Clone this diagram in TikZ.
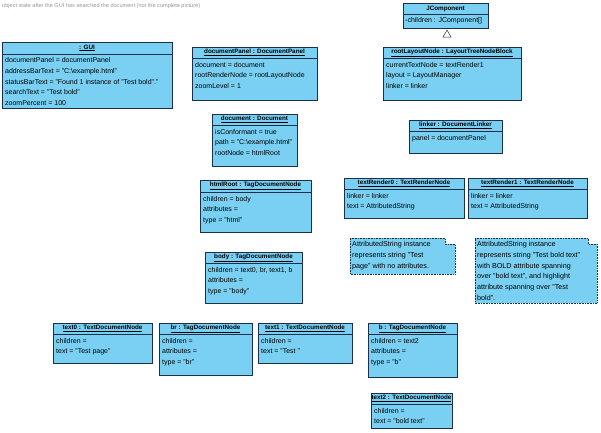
\documentclass[tikz,border=0pt]{standalone}
\usepackage{fontspec}
\setmainfont{Liberation Sans}
\usepackage{tikz}

\definecolor{objfill}{RGB}{122,208,242}
\definecolor{objline}{RGB}{28,48,78}
\definecolor{captiongray}{RGB}{150,150,150}

\newcommand{\bsl}{\textbackslash}

\begin{document}
\begin{tikzpicture}[x=1pt,y=-1pt,
    obj/.style={fill=objfill, draw=objline, line width=0.6pt},
    objsep/.style={draw=objline, line width=0.6pt},
    note/.style={fill=objfill, draw=objline, line width=0.6pt, densely dotted},
    objtitle/.style={inner sep=0pt, font=\fontsize{6.3}{7}\selectfont\bfseries},
    objattr/.style={anchor=north west, align=left, inner sep=0pt, font=\fontsize{7}{10.7}\selectfont},
    notetext/.style={anchor=north west, align=left, inner sep=0pt, font=\fontsize{7.2}{10.8}\selectfont}]
            \useasboundingbox (0,0) rectangle (601,432);
            \node[anchor=west, inner sep=0pt, text=captiongray, font=\fontsize{5.6}{6}\selectfont] (caption) at (2,6)
                {object state after the GUI has searched the document (not the complete picture)};

            % GUI
            \draw[obj] (2,42) rectangle (172,108);
            \draw[objsep] (2,54) -- (172,54);
            \node[objtitle] (gui) at (87,48) {\underline{: GUI}};
            \node[objattr] (guiattr) at (5,57.5) {documentPanel = documentPanel\\
                addressBarText = "C:\bsl example.html"\\
                statusBarText = "Found 1 instance of "Test bold"."\\
                searchText = "Test bold"\\
                zoomPercent = 100};

            \draw[obj] (192,47) rectangle (317,100);
            \draw[objsep] (192,58) -- (317,58);
            \node[objtitle] (documentPanel) at (254.5,52.5) {\underline{documentPanel : DocumentPanel}};
            \node[objattr] (documentPanelattr) at (195,62) {document = document\\
                rootRenderNode = rootLayoutNode\\
                zoomLevel = 1};

            % class and its triangle
            \draw[obj] (403,3) rectangle (488,28);
            \draw[objsep] (403,14) -- (488,14);
            \node[objtitle] (jcomponent) at (445.5,8.5) {JComponent};
            \node[objattr] (jcomponentattr) at (405,17) {-children : JComponent[]};
            \draw[fill=white, draw=objline, line width=0.5pt] (447,30) -- (443,37) -- (451,37) -- cycle;

            \draw[obj] (383,47) rectangle (521,100);
            \draw[objsep] (383,58) -- (521,58);
            \node[objtitle] (rootLayoutNode) at (452,52.5) {\underline{rootLayoutNode : LayoutTreeNodeBlock}};
            \node[objattr] (rootLayoutNodeattr) at (386,62) {currentTextNode = textRender1\\
                layout = LayoutManager\\
                linker = linker};

            \draw[obj] (212,114) rectangle (297,166);
            \draw[objsep] (212,125) -- (297,125);
            \node[objtitle] (document) at (254.5,119.5) {\underline{document : Document}};
            \node[objattr] (documentattr) at (215,129) {isConformant = true\\
                path = "C:\bsl example.html"\\
                rootNode = htmlRoot};

            \draw[obj] (409,120) rectangle (502,153);
            \draw[objsep] (409,131) -- (502,131);
            \node[objtitle] (linker) at (455.5,125.5) {\underline{linker : DocumentLinker}};
            \node[objattr] (linkerattr) at (412,135) {panel = documentPanel};

            \draw[obj] (200,180) rectangle (311,232);
            \draw[objsep] (200,192) -- (311,192);
            \node[objtitle] (htmlRoot) at (255.5,186) {\underline{htmlRoot : TagDocumentNode}};
            \node[objattr] (htmlRootattr) at (203,196) {children = body\\
                attributes =\\
                type = "html"};

            \draw[obj] (344,178) rectangle (464,218);
            \draw[objsep] (344,189) -- (464,189);
            \node[objtitle] (textRender0) at (404,183.5) {\underline{textRender0 : TextRenderNode}};
            \node[objattr] (textRender0attr) at (347,193) {linker = linker\\
                text = AttributedString};

            \draw[obj] (468,178) rectangle (587,218);
            \draw[objsep] (468,189) -- (587,189);
            \node[objtitle] (textRender1) at (527.5,183.5) {\underline{textRender1 : TextRenderNode}};
            \node[objattr] (textRender1attr) at (471,193) {linker = linker\\
                text = AttributedString};

            \draw[obj] (205,252) rectangle (302,303);
            \draw[objsep] (205,263) -- (302,263);
            \node[objtitle] (body) at (253.5,257.5) {\underline{body : TagDocumentNode}};
            \node[objattr] (bodyattr) at (208,267) {children = text0, br, text1, b\\
                attributes =\\
                type = "body"};

            % notes
            \draw[note] (350,238) -- (445,238) -- (445,244) -- (455,244) -- (455,274) -- (350,274) -- cycle;
            \node[notetext] (note0) at (352,241) {AttributedString instance\\
                represents string "Test\\
                page" with no attributes.};

            \draw[note] (475,238) -- (588,238) -- (588,244) -- (597,244) -- (597,303) -- (475,303) -- cycle;
            \node[notetext] (note1) at (477,241) {AttributedString instance\\
                represents string "Test bold text"\\
                with BOLD attribute spanning\\
                over "bold text", and highlight\\
                attribute spanning over "Test\\
                bold".};

            % bottom row
            \draw[obj] (53,323) rectangle (152,363);
            \draw[objsep] (53,334) -- (152,334);
            \node[objtitle] (text0) at (102.5,328.5) {\underline{text0 : TextDocumentNode}};
            \node[objattr] (text0attr) at (56,338) {children =\\
                text = "Test page"};

            \draw[obj] (159,323) rectangle (252,375);
            \draw[objsep] (159,334) -- (252,334);
            \node[objtitle] (br) at (205.5,328.5) {\underline{br : TagDocumentNode}};
            \node[objattr] (brattr) at (162,338) {children =\\
                attributes =\\
                type = "br"};

            \draw[obj] (258,323) rectangle (352,363);
            \draw[objsep] (258,334) -- (352,334);
            \node[objtitle] (text1) at (305,328.5) {\underline{text1 : TextDocumentNode}};
            \node[objattr] (text1attr) at (261,338) {children =\\
                text = "Test "};

            \draw[obj] (368,323) rectangle (457,377);
            \draw[objsep] (368,334) -- (457,334);
            \node[objtitle] (b) at (412.5,328.5) {\underline{b : TagDocumentNode}};
            \node[objattr] (battr) at (371,338) {children = text2\\
                attributes =\\
                type = "b"};

            \draw[obj] (371,393) rectangle (452,428);
            \draw[objsep] (371,404) -- (452,404);
            \node[objtitle] (text2) at (411.5,398.5) {\underline{text2 : TextDocumentNode}};
            \node[objattr] (text2attr) at (374,408) {children =\\
                text = "bold text"};
\end{tikzpicture}
\end{document}
